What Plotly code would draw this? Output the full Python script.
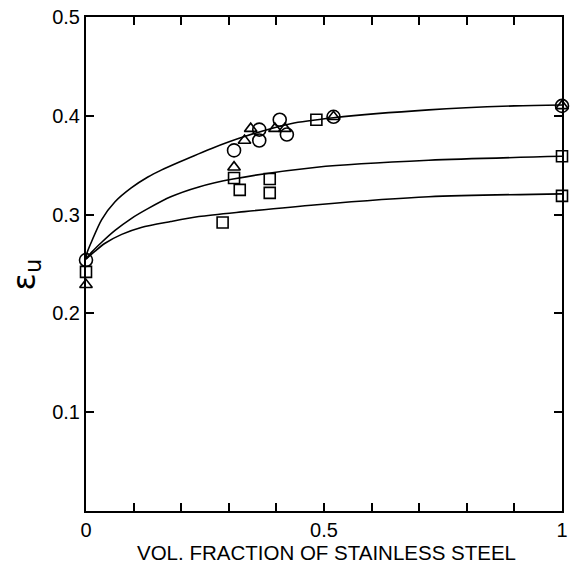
import plotly.graph_objects as go

# Measured uniform strain vs. volume fraction of stainless steel
circle_x = [0.0, 0.311, 0.364, 0.364, 0.407, 0.422, 0.520, 1.0]
circle_y = [0.254, 0.365, 0.386, 0.375, 0.396, 0.381, 0.399, 0.410]

square_x = [0.0, 0.287, 0.311, 0.323, 0.386, 0.386, 0.484, 1.0, 1.0]
square_y = [0.242, 0.292, 0.337, 0.325, 0.336, 0.322, 0.396, 0.359, 0.319]

triangle_x = [0.0, 0.311, 0.333, 0.346, 0.397, 0.418, 0.520, 1.0]
triangle_y = [0.229, 0.348, 0.375, 0.387, 0.387, 0.387, 0.399, 0.410]

# Smooth trend curves
upper_x = [0.0, 0.002, 0.012, 0.033, 0.061, 0.095, 0.130, 0.158, 0.195, 0.264, 0.333, 0.43, 0.52, 0.72, 0.9, 1.0]
upper_y = [0.255, 0.261, 0.273, 0.295, 0.313, 0.327, 0.338, 0.345, 0.353, 0.367, 0.379, 0.392, 0.398, 0.406, 0.410, 0.411]

middle_x = [0.0, 0.012, 0.033, 0.061, 0.095, 0.130, 0.178, 0.237, 0.309, 0.485, 0.72, 1.0]
middle_y = [0.255, 0.262, 0.272, 0.284, 0.296, 0.306, 0.318, 0.328, 0.336, 0.348, 0.355, 0.359]

lower_x = [0.0, 0.019, 0.040, 0.075, 0.116, 0.178, 0.237, 0.333, 0.485, 0.72, 1.0]
lower_y = [0.255, 0.263, 0.271, 0.280, 0.287, 0.293, 0.298, 0.303, 0.310, 0.318, 0.321]

x_tick_vals = [0.0, 0.1, 0.2, 0.3, 0.4, 0.5, 0.6, 0.7, 0.8, 0.9, 1.0]
x_tick_text = ["0", "", "", "", "", "0.5", "", "", "", "", "1"]
y_tick_vals = [0.1, 0.2, 0.3, 0.4, 0.5]
y_tick_text = ["0.1", "0.2", "0.3", "0.4", "0.5"]

fig = go.Figure()

for cx, cy in [(upper_x, upper_y), (middle_x, middle_y), (lower_x, lower_y)]:
    fig.add_trace(go.Scatter(
        x=cx, y=cy, mode="lines",
        line=dict(color="black", width=1.6, shape="spline", smoothing=0.8),
        hoverinfo="skip", showlegend=False, cliponaxis=False,
    ))

marker_line = dict(color="black", width=1.6)
fig.add_trace(go.Scatter(
    x=square_x, y=square_y, mode="markers", showlegend=False, cliponaxis=False,
    marker=dict(symbol="square-open", size=11, color="black", line=marker_line),
))
fig.add_trace(go.Scatter(
    x=triangle_x, y=triangle_y, mode="markers", showlegend=False, cliponaxis=False,
    marker=dict(symbol="triangle-up-open", size=11, color="black", line=marker_line),
))
fig.add_trace(go.Scatter(
    x=circle_x, y=circle_y, mode="markers", showlegend=False, cliponaxis=False,
    marker=dict(symbol="circle-open", size=13, color="black", line=marker_line),
))

tick_font = dict(family="Liberation Sans, Arial, sans-serif", size=20, color="black")

fig.update_xaxes(
    range=[0, 1], tickmode="array", tickvals=x_tick_vals, ticktext=x_tick_text,
    ticks="inside", ticklen=8, tickwidth=1.6, tickcolor="black",
    showline=True, linecolor="black", linewidth=2, mirror="ticks",
    showgrid=False, zeroline=False, tickfont=tick_font,
)
fig.update_yaxes(
    range=[0, 0.5], tickmode="array", tickvals=y_tick_vals, ticktext=y_tick_text,
    ticks="inside", ticklen=8, tickwidth=1.6, tickcolor="black",
    showline=True, linecolor="black", linewidth=2, mirror="ticks",
    showgrid=False, zeroline=False, tickfont=tick_font,
)

fig.add_annotation(
    text="VOL. FRACTION OF STAINLESS STEEL", xref="paper", yref="paper",
    x=0.506, y=-0.085, xanchor="center", yanchor="middle", showarrow=False,
    font=dict(family="Liberation Sans, Arial, sans-serif", size=20.5, color="black"),
)
fig.add_annotation(
    text="ε<sub>u</sub>", xref="paper", yref="paper",
    x=-0.127, y=0.478, xanchor="center", yanchor="middle", showarrow=False,
    textangle=-90,
    font=dict(family="DejaVu Sans, sans-serif", size=32, color="black"),
)

fig.update_layout(
    width=574, height=571,
    margin=dict(l=86, r=6, t=17, b=60),
    paper_bgcolor="white", plot_bgcolor="white",
)

fig.write_html("out.html")
